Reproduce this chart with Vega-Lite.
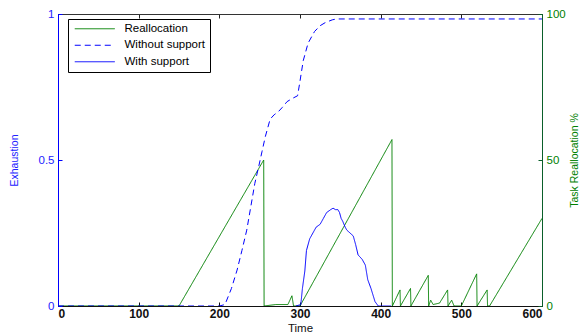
{
  "$schema": "https://vega.github.io/schema/vega-lite/v6.json",
  "width": 484,
  "height": 292,
  "autosize": {"type": "none"},
  "padding": {"left": 58, "top": 14, "right": 38, "bottom": 26},
  "title": {"text": "Figure 7: Impact of perceived pressure with and without support", "fontSize": 18, "font": "Liberation Sans", "fontWeight": "bold", "anchor": "middle", "frame": "group", "baseline": "alphabetic", "offset": 11, "dy": 3, "color": "black"},
  "config": {
    "view": {"stroke": "#333", "strokeWidth": 1},
    "axis": {"labelFont": "Liberation Sans", "titleFont": "Liberation Sans", "grid": false}
  },
  "datasets": {
    "exh": [
      {"series": "Without support", "t": 0, "v": 0},
      {"series": "Without support", "t": 200, "v": 0},
      {"series": "Without support", "t": 207, "v": 0.005},
      {"series": "Without support", "t": 215, "v": 0.06},
      {"series": "Without support", "t": 222, "v": 0.123},
      {"series": "Without support", "t": 228, "v": 0.19},
      {"series": "Without support", "t": 234, "v": 0.26},
      {"series": "Without support", "t": 239, "v": 0.34},
      {"series": "Without support", "t": 244, "v": 0.42},
      {"series": "Without support", "t": 249, "v": 0.48},
      {"series": "Without support", "t": 253, "v": 0.53},
      {"series": "Without support", "t": 257, "v": 0.58},
      {"series": "Without support", "t": 263, "v": 0.64},
      {"series": "Without support", "t": 268, "v": 0.655},
      {"series": "Without support", "t": 273, "v": 0.665},
      {"series": "Without support", "t": 278, "v": 0.68},
      {"series": "Without support", "t": 284, "v": 0.7},
      {"series": "Without support", "t": 290, "v": 0.71},
      {"series": "Without support", "t": 297, "v": 0.72},
      {"series": "Without support", "t": 300, "v": 0.77},
      {"series": "Without support", "t": 304, "v": 0.84},
      {"series": "Without support", "t": 310, "v": 0.9},
      {"series": "Without support", "t": 318, "v": 0.94},
      {"series": "Without support", "t": 325, "v": 0.96},
      {"series": "Without support", "t": 331, "v": 0.97},
      {"series": "Without support", "t": 340, "v": 0.98},
      {"series": "Without support", "t": 345, "v": 0.983},
      {"series": "Without support", "t": 600, "v": 0.983},
      {"series": "With support", "t": 295, "v": 0},
      {"series": "With support", "t": 301, "v": 0.005},
      {"series": "With support", "t": 303, "v": 0.06},
      {"series": "With support", "t": 306, "v": 0.12},
      {"series": "With support", "t": 308, "v": 0.19},
      {"series": "With support", "t": 312, "v": 0.23},
      {"series": "With support", "t": 316, "v": 0.25},
      {"series": "With support", "t": 320, "v": 0.27},
      {"series": "With support", "t": 325, "v": 0.28},
      {"series": "With support", "t": 329, "v": 0.3},
      {"series": "With support", "t": 333, "v": 0.32},
      {"series": "With support", "t": 338, "v": 0.33},
      {"series": "With support", "t": 341, "v": 0.335},
      {"series": "With support", "t": 344, "v": 0.33},
      {"series": "With support", "t": 347, "v": 0.33},
      {"series": "With support", "t": 349, "v": 0.32},
      {"series": "With support", "t": 351, "v": 0.3},
      {"series": "With support", "t": 353, "v": 0.29},
      {"series": "With support", "t": 356, "v": 0.27},
      {"series": "With support", "t": 358, "v": 0.26},
      {"series": "With support", "t": 362, "v": 0.25},
      {"series": "With support", "t": 366, "v": 0.24},
      {"series": "With support", "t": 369, "v": 0.21},
      {"series": "With support", "t": 372, "v": 0.175},
      {"series": "With support", "t": 377, "v": 0.16},
      {"series": "With support", "t": 381, "v": 0.14},
      {"series": "With support", "t": 384, "v": 0.09},
      {"series": "With support", "t": 388, "v": 0.06},
      {"series": "With support", "t": 393, "v": 0.015},
      {"series": "With support", "t": 397, "v": 0},
      {"series": "With support", "t": 413, "v": 0}
    ],
    "real": [
      {"series": "Reallocation", "t": 0, "v": 0},
      {"series": "Reallocation", "t": 150, "v": 0},
      {"series": "Reallocation", "t": 255, "v": 50},
      {"series": "Reallocation", "t": 255.5, "v": 0},
      {"series": "Reallocation", "t": 270, "v": 0.5},
      {"series": "Reallocation", "t": 285, "v": 0.5},
      {"series": "Reallocation", "t": 290, "v": 3.5},
      {"series": "Reallocation", "t": 292, "v": 0},
      {"series": "Reallocation", "t": 300, "v": 0},
      {"series": "Reallocation", "t": 414, "v": 57},
      {"series": "Reallocation", "t": 414.5, "v": 0},
      {"series": "Reallocation", "t": 424, "v": 5.5},
      {"series": "Reallocation", "t": 424.5, "v": 0},
      {"series": "Reallocation", "t": 437, "v": 6},
      {"series": "Reallocation", "t": 437.5, "v": 0},
      {"series": "Reallocation", "t": 459, "v": 10.5},
      {"series": "Reallocation", "t": 459.5, "v": 0},
      {"series": "Reallocation", "t": 462, "v": 2},
      {"series": "Reallocation", "t": 465, "v": 0.5},
      {"series": "Reallocation", "t": 473, "v": 1},
      {"series": "Reallocation", "t": 483, "v": 5.5},
      {"series": "Reallocation", "t": 483.5, "v": 0},
      {"series": "Reallocation", "t": 488, "v": 2},
      {"series": "Reallocation", "t": 491, "v": 0},
      {"series": "Reallocation", "t": 500, "v": 0},
      {"series": "Reallocation", "t": 519, "v": 11},
      {"series": "Reallocation", "t": 519.5, "v": 0},
      {"series": "Reallocation", "t": 532, "v": 5.5},
      {"series": "Reallocation", "t": 532.5, "v": 0},
      {"series": "Reallocation", "t": 535, "v": 0},
      {"series": "Reallocation", "t": 600, "v": 30}
    ]
  },
  "layer": [
    {
      "data": {"name": "real"},
      "mark": {"type": "line", "strokeWidth": 1, "clip": true},
      "encoding": {
        "x": {"field": "t", "type": "quantitative", "scale": {"domain": [0, 600], "nice": false},
          "axis": {"orient": "top", "title": null, "labels": false, "values": [0, 100, 200, 300, 400, 500, 600], "tickSize": -4, "tickColor": "#222", "domainColor": "#333"}},
        "y": {"field": "v", "type": "quantitative", "scale": {"domain": [0, 100], "nice": false},
          "axis": {"orient": "right", "title": "Task Reallocation %", "values": [0, 50, 100], "format": "d", "tickSize": -4, "tickColor": "#0a5f2a", "domainColor": "#0a5f2a", "labelColor": "#008000", "labelFontSize": 11.5, "labelPadding": 8, "titleColor": "#008000", "titleFontSize": 10.5, "titleFontWeight": "normal", "titleAngle": 270, "titlePadding": 14}},
        "color": {"field": "series", "type": "nominal", "scale": {"domain": ["Reallocation", "Without support", "With support"], "range": ["#008000", "#0000ff", "#0000ff"]},
          "legend": {"title": null, "orient": "none", "legendX": 10, "legendY": 5, "fillColor": "white", "strokeColor": "black", "padding": 4, "symbolType": "M-4,0H4", "symbolSize": 100, "symbolOffset": 17, "symbolStrokeWidth": 1, "labelFont": "Liberation Sans", "labelFontSize": 11.5, "labelColor": "black", "labelOffset": 24, "rowPadding": 3.5,
            "encode": {"symbols": {"update": {"strokeDash": {"signal": "datum.value === 'Without support' ? [6, 4] : [1, 0]"}}}}}},
        "strokeDash": {"field": "series", "type": "nominal", "scale": {"domain": ["Reallocation", "Without support", "With support"], "range": [[1, 0], [6, 4], [1, 0]]}, "legend": null}
      }
    },
    {
      "data": {"name": "exh"},
      "mark": {"type": "line", "strokeWidth": 1, "clip": true},
      "encoding": {
        "x": {"field": "t", "type": "quantitative", "scale": {"domain": [0, 600], "nice": false},
          "axis": {"orient": "bottom", "title": "Time", "values": [0, 100, 200, 300, 400, 500, 600], "tickSize": -4, "tickColor": "#111", "domainColor": "#111", "labelColor": "#111", "labelFontSize": 12, "labelFontWeight": "bold", "labelPadding": 6, "titleFontSize": 11.5, "titleFontWeight": "normal", "titleColor": "#111", "titlePadding": 3}},
        "y": {"field": "v", "type": "quantitative", "scale": {"domain": [0, 1], "nice": false},
          "axis": {"orient": "left", "title": "Exhaustion", "values": [0, 0.5, 1], "format": "~g", "tickSize": -4, "tickColor": "#0000ff", "domainColor": "#0000ff", "labelColor": "#2222ff", "labelFontSize": 11.5, "labelPadding": 8, "titleColor": "#2222ff", "titleFontSize": 10.5, "titleFontWeight": "normal", "titlePadding": 19}},
        "color": {"field": "series", "type": "nominal", "scale": {"domain": ["Reallocation", "Without support", "With support"], "range": ["#008000", "#0000ff", "#0000ff"]},
          "legend": {"title": null, "orient": "none", "legendX": 10, "legendY": 5, "fillColor": "white", "strokeColor": "black", "padding": 4, "symbolType": "M-4,0H4", "symbolSize": 100, "symbolOffset": 17, "symbolStrokeWidth": 1, "labelFont": "Liberation Sans", "labelFontSize": 11.5, "labelColor": "black", "labelOffset": 24, "rowPadding": 3.5,
            "encode": {"symbols": {"update": {"strokeDash": {"signal": "datum.value === 'Without support' ? [6, 4] : [1, 0]"}}}}}},
        "strokeDash": {"field": "series", "type": "nominal", "scale": {"domain": ["Reallocation", "Without support", "With support"], "range": [[1, 0], [6, 4], [1, 0]]}, "legend": null}
      }
    }
  ],
  "resolve": {"scale": {"y": "independent"}, "axis": {"x": "independent", "y": "independent"}}
}
